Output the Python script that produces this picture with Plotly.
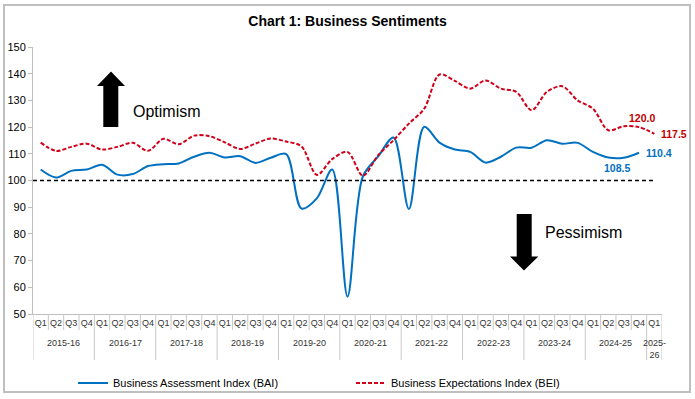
import plotly.graph_objects as go

# ---------------- data ----------------
quarters = ["Q1", "Q2", "Q3", "Q4"] * 10 + ["Q1"]
years = ["2015-16", "2016-17", "2017-18", "2018-19", "2019-20",
         "2020-21", "2021-22", "2022-23", "2023-24", "2024-25", "2025-<br>26"]

bai = [104.1, 101.1, 103.6, 104.1, 105.9, 102.2, 102.4, 105.4, 106.1, 106.4,
       108.9, 110.4, 108.6, 109.1, 106.6, 108.5, 109.9, 89.5, 93.3, 104.1,
       56.5, 101.5, 109.0, 116.1, 89.3, 120.1, 114.2, 111.6, 110.7, 106.7,
       108.9, 112.3, 112.3, 115.1, 113.8, 114.1, 110.7, 108.6, 108.5, 110.4]

bei = [114.2, 111.1, 112.6, 113.8, 111.6, 112.6, 114.1, 111.1, 115.6, 113.6,
       116.8, 116.6, 114.3, 111.8, 113.8, 115.7, 114.6, 112.8, 102.1, 108.0,
       110.7, 101.8, 109.5, 115.1, 121.3, 126.9, 139.7, 137.3, 134.4, 137.5,
       134.4, 133.2, 126.3, 133.2, 135.3, 130.0, 126.9, 118.8, 120.3, 120.0,
       117.5]

threshold = 100
y_min, y_max, y_step = 50, 150, 10

BLUE = "#0070C0"
RED = "#D0001A"
RED_LBL = "#C00000"
GRAY = "#BFBFBF"
FONT = "Liberation Sans, Arial, sans-serif"

# plot-area geometry in pixels (for decorations)
W, H = 695, 399
PL, PR, PT, PB = 33, 662, 47, 314


def px(xp, yp):
    return (xp - PL) / (PR - PL), (PB - yp) / (PB - PT)


x_idx = list(range(len(quarters)))

fig = go.Figure()
fig.add_trace(go.Scatter(
    x=x_idx[:len(bai)], y=bai, mode="lines", name="Business Assessment Index (BAI)",
    line=dict(color=BLUE, width=2, shape="spline", smoothing=0.9)))
fig.add_trace(go.Scatter(
    x=x_idx[:len(bei)], y=bei, mode="lines", name="Business Expectations Index (BEI)",
    line=dict(color=RED, width=2, dash="4px,2px", shape="spline", smoothing=0.9)))

shapes = []
# threshold line
shapes.append(dict(type="line", xref="x", yref="y", x0=-0.5, x1=len(quarters) - 1,
                   y0=threshold, y1=threshold,
                   line=dict(color="black", width=1.5, dash="4px,3px")))

# category separators
q_len = (PB - 330) / (PB - PT)
y_len = (PB - 360) / (PB - PT)
n = len(quarters)
for k in range(n + 1):
    long = (k % 4 == 0) or k == n
    shapes.append(dict(type="line", xref="x", yref="paper", x0=k - 0.5, x1=k - 0.5,
                       y0=0, y1=y_len if long else q_len,
                       line=dict(color="#C8C8C8", width=1)))

# year labels
annotations = []
for j, yr in enumerate(years):
    cnt = min(4, n - 4 * j)
    annotations.append(dict(x=4 * j + (cnt - 1) / 2, y=px(0, 336)[1], xref="x", yref="paper",
                            text=yr, showarrow=False, xanchor="center", yanchor="top",
                            font=dict(size=9, color="#333333", family=FONT)))


def arrow_path(pts):
    s = ""
    for i, (a, b) in enumerate(pts):
        xa, yb = px(a, b)
        s += ("M" if i == 0 else "L") + f"{xa:.5f},{yb:.5f} "
    return s + "Z"


up = [(111, 71.5), (125, 86), (118.3, 86), (118.3, 127), (103.3, 127), (103.3, 86), (97, 86)]
down = [(524, 270.5), (538.3, 256.5), (531.7, 256.5), (531.7, 214), (516.7, 214), (516.7, 256.5), (510, 256.5)]
for pts in (up, down):
    shapes.append(dict(type="path", xref="paper", yref="paper", path=arrow_path(pts),
                       fillcolor="black", line=dict(width=0)))

# outer border
bx0, by0 = px(4, 392)
bx1, by1 = px(690, 5)
shapes.append(dict(type="rect", xref="paper", yref="paper", x0=bx0, y0=by0, x1=bx1, y1=by1,
                   line=dict(color=GRAY, width=2)))

ox, oy = px(131, 111)
annotations.append(dict(x=ox, y=oy, xref="paper", yref="paper", text="Optimism", showarrow=False,
                        xanchor="left", yanchor="middle", font=dict(size=16, color="black", family=FONT)))
ox, oy = px(543, 232)
annotations.append(dict(x=ox, y=oy, xref="paper", yref="paper", text="Pessimism", showarrow=False,
                        xanchor="left", yanchor="middle", font=dict(size=16, color="black", family=FONT)))

# data labels
lab = dict(showarrow=False, xref="x", yref="y")
annotations.append(dict(lab, x=39, y=bei[39], text=f"<b>{bei[39]:.1f}</b>", xshift=3, yshift=9,
                        font=dict(size=10.5, family=FONT, color=RED_LBL)))
annotations.append(dict(lab, x=40, y=bei[40], text=f"<b>{bei[40]:.1f}</b>", xanchor="left", xshift=5,
                        font=dict(size=10.5, family=FONT, color=RED_LBL)))
annotations.append(dict(lab, x=39, y=bai[39], text=f"<b>{bai[39]:.1f}</b>", xanchor="left", xshift=5,
                        font=dict(size=10.5, family=FONT, color=BLUE)))
annotations.append(dict(lab, x=38, y=bai[38], text=f"<b>{bai[38]:.1f}</b>", xshift=-7, yshift=-10,
                        font=dict(size=10.5, family=FONT, color=BLUE)))

fig.update_layout(
    width=W, height=H,
    margin=dict(l=PL, r=W - PR, t=PT, b=H - PB, autoexpand=False),
    paper_bgcolor="white", plot_bgcolor="white",
    font=dict(family=FONT, color="black"),
    title=dict(text="<b>Chart 1: Business Sentiments</b>", x=0.5, xanchor="center",
               xref="container", yref="container",
               y=1 - 21 / H, yanchor="middle", font=dict(size=14, family=FONT, color="black")),
    xaxis=dict(range=[-0.5, n - 0.5], tickvals=x_idx, ticktext=quarters, ticks="",
               showline=True, linecolor=GRAY, linewidth=1, showgrid=False, zeroline=False,
               automargin=False, tickfont=dict(size=9, color="#333333", family=FONT)),
    yaxis=dict(range=[y_min, y_max], dtick=y_step, tick0=y_min, showline=True, linecolor=GRAY,
               ticks="outside", ticklen=4, tickcolor=GRAY, showgrid=False, zeroline=False,
               automargin=False, tickfont=dict(size=11, color="black", family=FONT)),
    legend=dict(orientation="h", xref="container", yref="container",
                x=73 / W, y=1 - 383 / H, xanchor="left", yanchor="middle",
                font=dict(size=11, family=FONT, color="black"), entrywidth=233,
                bgcolor="rgba(0,0,0,0)"),
    shapes=shapes, annotations=annotations,
)

fig.write_html("out.html", config={"displayModeBar": False},
               post_script="document.body.style.margin='0';document.body.style.overflow='hidden';")
